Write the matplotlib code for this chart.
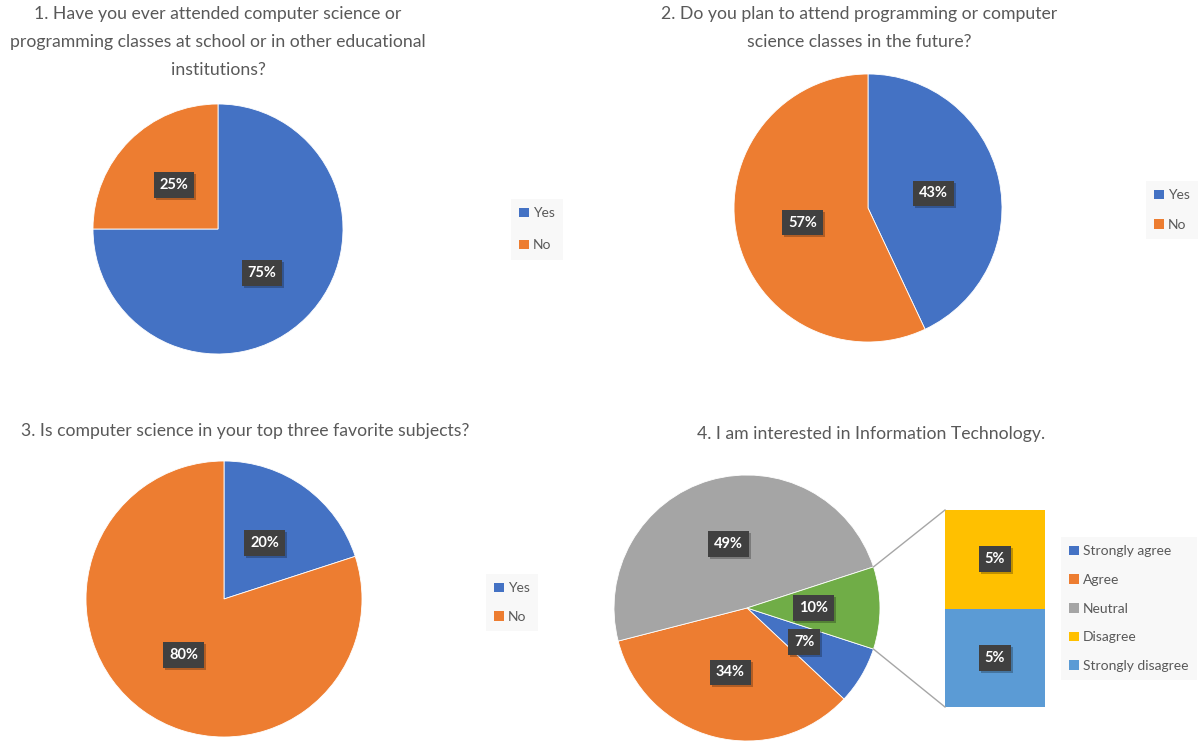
import matplotlib
matplotlib.use("Agg")
import matplotlib.pyplot as plt
from matplotlib.patches import Patch
import matplotlib.transforms as mtransforms
import math

plt.rcParams['font.family'] = ['Lato', 'DejaVu Sans']

# ---- data ----
titles = [
    "1. Have you ever attended computer science or\nprogramming classes at school or in other educational\ninstitutions?",
    "2. Do you plan to attend programming or computer\nscience classes in the future?",
    "3. Is computer science in your top three favorite subjects?",
    "4. I am interested in Information Technology.",
]
yn_labels = ["Yes", "No"]
q1_values = [75, 25]
q2_values = [43, 57]
q3_values = [20, 80]
q4_labels = ["Strongly agree", "Agree", "Neutral", "Disagree", "Strongly disagree"]
q4_main_values = [7, 34, 49]        # Strongly agree, Agree, Neutral
q4_other_values = [5, 5]            # Disagree, Strongly disagree (broken out)

BLUE = "#4472C4"
ORANGE = "#ED7D31"
GRAY = "#A5A5A5"
YELLOW = "#FFC000"
LBLUE = "#5B9BD5"
GREEN = "#70AD47"
TXT = "#595959"

W, H = 1201, 741
fig = plt.figure(figsize=(W / 100, H / 100), dpi=100)
ax = fig.add_axes([0, 0, 1, 1])


def Y(y):
    return H - y


def style_label(t):
    t.set(color="white", fontsize=10.5, fontweight="bold", ha="center", va="center", zorder=6)
    t.set_bbox(dict(boxstyle="square,pad=0.4", fc="#404040", ec="none"))
    # shadow
    x, y = t.get_position()
    sh = ax.text(x, y, t.get_text(), color=(0, 0, 0, 0), fontsize=10.5, fontweight="bold",
                 ha="center", va="center", zorder=5,
                 transform=t.get_transform() + mtransforms.ScaledTranslation(2 / 100, -2 / 100, fig.dpi_scale_trans))
    sh.set_bbox(dict(boxstyle="square,pad=0.4", fc=(0, 0, 0, 0.25), ec="none"))


def draw_pie(values, colors, center, radius, start):
    wedges, texts, autotexts = ax.pie(
        values, colors=colors, center=center, radius=radius,
        startangle=start, counterclock=False, autopct='%1.0f%%',
        pctdistance=0.5, wedgeprops=dict(linewidth=0.6, edgecolor="white"),
        frame=True)
    for t in autotexts:
        style_label(t)
    return wedges


draw_pie(q1_values, [BLUE, ORANGE], (218, Y(229)), 125, 90)
draw_pie(q2_values, [BLUE, ORANGE], (868, Y(208)), 134, 90)
draw_pie(q3_values, [BLUE, ORANGE], (224, Y(599)), 138, 90)

# pie-of-bar
other_total = sum(q4_other_values)
main_vals = q4_main_values + [other_total]
c4 = (747, Y(608))
r4 = 133
draw_pie(main_vals, [BLUE, ORANGE, GRAY, GREEN], c4, r4, -360 * other_total / 200)

# bar of the broken-out part
bar_x = 995
bar_w = 100
bar_bottom = Y(707)
bar_h_total = 197
scale = bar_h_total / other_total
bottom = bar_bottom
bar_colors = [LBLUE, YELLOW]
for val, col in zip(reversed(q4_other_values), bar_colors):
    ax.bar(bar_x, val * scale, width=bar_w, bottom=bottom, color=col, edgecolor="none")
    t = ax.text(bar_x, bottom + val * scale / 2, f"{val}%")
    style_label(t)
    bottom += val * scale

half = math.radians(360 * other_total / 200)
p_top = (c4[0] + r4 * math.cos(half), c4[1] + r4 * math.sin(half))
p_bot = (c4[0] + r4 * math.cos(half), c4[1] - r4 * math.sin(half))
ax.plot([p_top[0], bar_x - bar_w / 2], [p_top[1], bar_bottom + bar_h_total],
        color="#A6A6A6", lw=1)
ax.plot([p_bot[0], bar_x - bar_w / 2], [p_bot[1], bar_bottom],
        color="#A6A6A6", lw=1)

ax.set_xlim(0, W)
ax.set_ylim(0, H)
ax.set_aspect('equal')
ax.axis('off')

# titles
title_kw = dict(color=TXT, fontsize=12.7, ha="center", va="top", linespacing=1.93)
ax.text(218, Y(6), titles[0], **title_kw)
ax.text(859, Y(6), titles[1], **title_kw)
ax.text(245, Y(423), titles[2], **title_kw)
ax.text(871, Y(426), titles[3], **title_kw)


# legends
def legend(labels, colors, anchor, spacing):
    handles = [Patch(facecolor=c, edgecolor='none') for c in colors]
    lg = fig.legend(handles, labels, loc="upper left",
                    bbox_to_anchor=(anchor[0] / W, 1 - anchor[1] / H),
                    frameon=True, fancybox=False, framealpha=1,
                    facecolor="#F8F8F8", edgecolor="none",
                    fontsize=10, labelcolor=TXT, handlelength=0.7,
                    handleheight=0.7, handletextpad=0.3, labelspacing=spacing,
                    borderpad=0.6, borderaxespad=0)
    return lg


legend(yn_labels, [BLUE, ORANGE], (511, 199), 1.45)
legend(yn_labels, [BLUE, ORANGE], (1146, 181), 1.25)
legend(yn_labels, [BLUE, ORANGE], (486, 574), 1.2)
legend(q4_labels, [BLUE, ORANGE, GRAY, YELLOW, LBLUE], (1061, 537), 1.2)

fig.savefig("out.png", dpi=100, facecolor="white")
